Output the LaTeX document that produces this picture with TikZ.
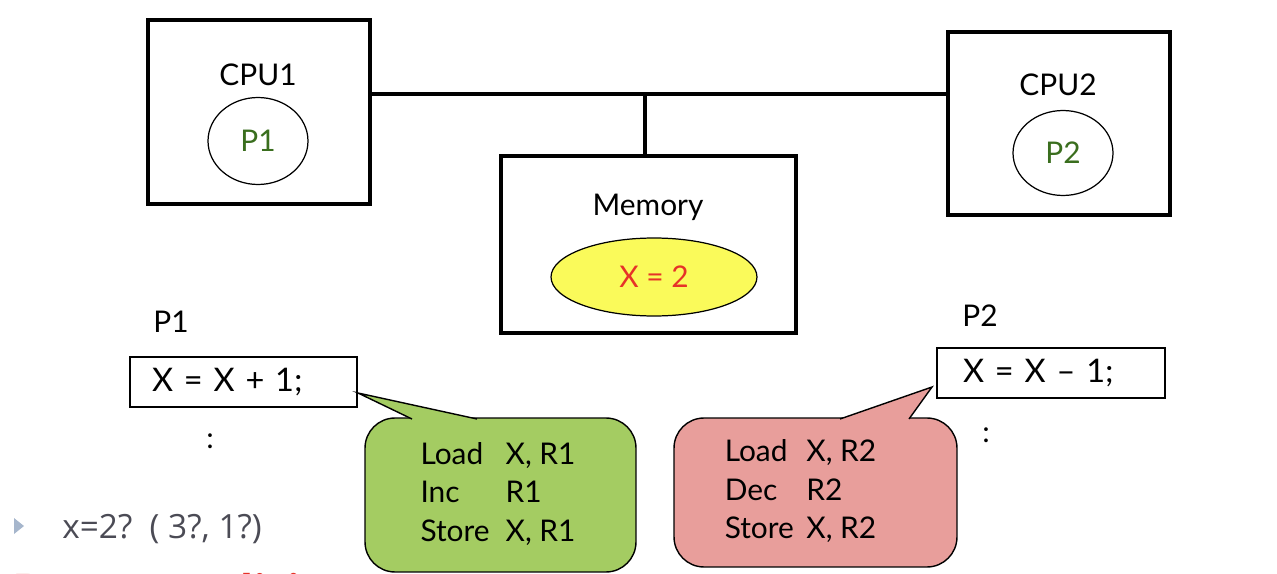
\documentclass[tikz,border=0pt]{standalone}
\usepackage{fontspec}
\setmainfont{Lato}
\newfontfamily\bulletfont{Open Sans}
\usetikzlibrary{positioning,shapes.geometric,calc}
\definecolor{pgreen}{RGB}{58,110,30}
\definecolor{xred}{RGB}{230,50,40}
\definecolor{memyellow}{RGB}{250,250,90}
\definecolor{callgreen}{RGB}{164,204,98}
\definecolor{callred}{RGB}{232,158,155}
\definecolor{bulletgray}{RGB}{166,182,204}
\definecolor{textgray}{RGB}{75,75,85}

\begin{document}
\begin{tikzpicture}[x=0.02cm, y=-0.02cm,
  hwbox/.style={rectangle, draw=black, line width=2.2pt, fill=white, inner sep=0pt},
  proc/.style={ellipse, draw=black, line width=0.7pt, inner sep=0pt,
               minimum width=2.0cm, minimum height=1.74cm,
               font=\fontsize{17}{20}\selectfont, text=pgreen},
  lbl/.style={font=\fontsize{17}{20}\selectfont, inner sep=0pt},
  codebox/.style={rectangle, draw=black, line width=0.8pt, minimum height=1.0cm,
                  font=\fontsize{18.5}{22}\selectfont, align=left, inner ysep=0pt},
  callout/.style={rectangle, rounded corners=0.6cm, draw=black, line width=0.8pt,
                  inner sep=0pt, font=\fontsize{17}{22}\selectfont},
  bus/.style={line width=2.2pt}
]
\useasboundingbox (0,0) rectangle (1277,574);

% CPUs and memory
\node[hwbox, minimum width=4.44cm, minimum height=3.68cm] (cpua) at (259,112) {};
\node[lbl] (cpualbl) at (258,75) {CPU1};
\node[proc] (pa) at (258,141) {P1};

\node[hwbox, minimum width=4.44cm, minimum height=3.66cm] (cpub) at (1059,123.5) {};
\node[lbl] (cpublbl) at (1058,85) {CPU2};
\node[proc, minimum height=1.7cm] (pb) at (1063,153) {P2};

\node[hwbox, minimum width=5.9cm, minimum height=3.54cm] (mem) at (648.5,244.5) {};
\node[lbl] (memlbl) at (648,207) {Memory};
\node[ellipse, draw=black, line width=0.7pt, fill=memyellow, inner sep=0pt,
      minimum width=4.12cm, minimum height=1.56cm, text=xred,
      font=\fontsize{17}{20}\selectfont] (xval) at (654,277) {X = 2};

% bus
\coordinate (busj) at (645,94);
\draw[bus] (cpua.east |- busj) -- (cpub.west |- busj);
\draw[bus] (busj) -- (busj |- mem.north);

% process code
\node[lbl, anchor=west] (palbl) at (153,322) {P1};
\node[codebox, inner xsep=0.44cm, text width=3.66cm] (pacode) at (243.5,382) {X = X + 1;};
\node[lbl] (pados) at (210,441) {:};

\node[lbl, anchor=west] (pblbl) at (962,316) {P2};
\node[codebox, inner xsep=0.52cm, text width=3.52cm] (pbcode) at (1051,373) {X = X -- 1;};
\node[lbl] (pbdots) at (986,435) {:};

% green callout
\node[callout, fill=callgreen, minimum width=5.42cm, minimum height=3.08cm] (ainstr) at (500.5,495)
  {\hspace{-0.1cm}\begin{tabular}{@{}l@{\hspace{0.32cm}}l@{}}Load & X, R1\\ Inc & R1\\ Store & X, R1\end{tabular}};
\coordinate (atip) at (358,393);
\fill[callgreen] (atip) -- (412,419) -- (412,423) -- (477,423) -- (477,419) -- cycle;
\draw[line width=0.8pt] (412,419) -- (atip) -- (477,419);

% red callout
\node[callout, fill=callred, minimum width=5.66cm, minimum height=2.98cm] (binstr) at (815.5,492.5)
  {\hspace{-0.6cm}\begin{tabular}{@{}l@{\hspace{0.25cm}}l@{}}Load & X, R2\\ Dec & R2\\ Store & X, R2\end{tabular}};
\coordinate (btip) at (932,387);
\fill[callred] (btip) -- (840,419) -- (840,423) -- (909,423) -- (909,419) -- cycle;
\draw[line width=0.8pt] (840,419) -- (btip) -- (909,419);

% bullet line
\fill[bulletgray] (14,518) -- (24,526) -- (14,534) -- cycle;
\node[anchor=base west, inner sep=0pt, text=textgray, font=\bulletfont\fontsize{19}{22}\selectfont]
  (question) at (62,538) {x=2?\ \ ( 3?, 1?)};
\node[anchor=base west, inner sep=0pt, text=xred, font=\bfseries\fontsize{30}{34}\selectfont]
  (race) at (12,612) {Race condition};
\end{tikzpicture}
\end{document}
